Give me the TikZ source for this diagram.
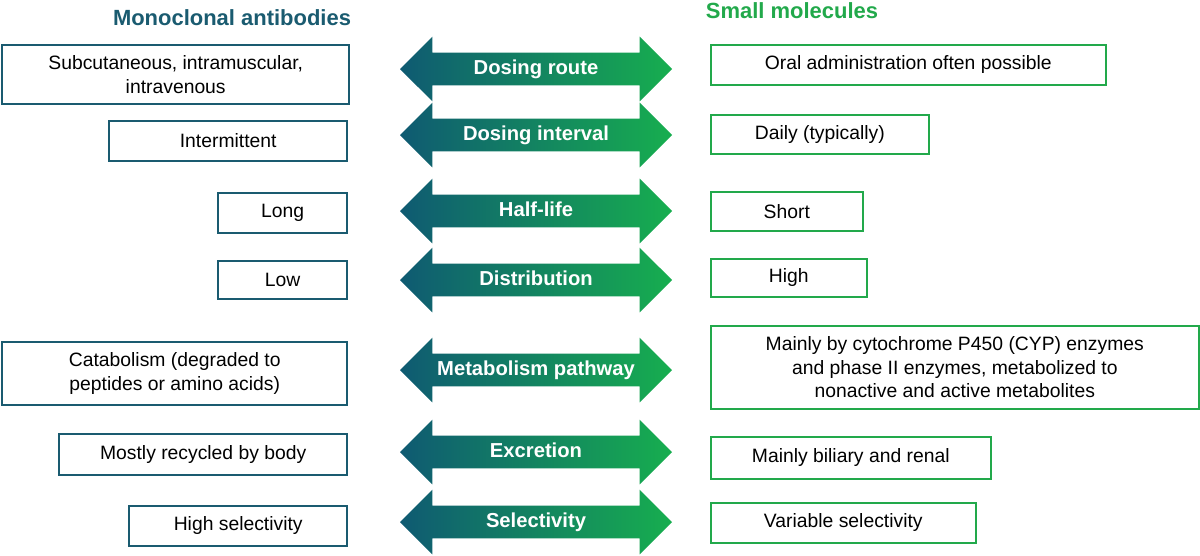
\documentclass[tikz,border=0pt]{standalone}
\usepackage{fontspec}
\setmainfont{Liberation Sans}
\usetikzlibrary{shapes.arrows, positioning}
\definecolor{mabteal}{HTML}{1A5B70}
\definecolor{smgreen}{HTML}{22A94B}
\definecolor{arrowleft}{HTML}{0F5A72}
\definecolor{arrowright}{HTML}{17AE4F}

\begin{document}
\begin{tikzpicture}[
    every node/.style={align=center, font=\fontsize{11}{13.5}\selectfont},
    lbox/.style={draw=mabteal, line width=0.9pt, anchor=north east, inner sep=2pt},
    rbox/.style={draw=smgreen, line width=0.9pt, anchor=north west, inner sep=2pt},
    twoway/.style={double arrow, double arrow head extend=0.32cm,
        minimum height=5.44cm, minimum width=1.28cm,
        text height=0.28cm, text depth=0.08cm, inner ysep=0.14cm, inner xsep=0pt,
        left color=arrowleft, right color=arrowright, text=white,
        font=\fontsize{11.5}{13}\selectfont\bfseries}
]
\useasboundingbox (0,0) rectangle (24,-11.1);

% Titel
\node[text=mabteal, font=\fontsize{12.5}{14}\selectfont\bfseries] (mabtitle) at (4.64,-0.36) {Monoclonal antibodies};
\node[text=smgreen, font=\fontsize{12.5}{14}\selectfont\bfseries] (smtitle) at (15.84,-0.22) {Small molecules};

% Pfeile in der Mitte
\foreach \name/\y/\txt in {route/-1.38/Dosing route, interval/-2.7/Dosing interval,
    halflife/-4.22/Half-life, distribution/-5.6/Distribution,
    metabolism/-7.4/Metabolism pathway, excretion/-9.04/Excretion,
    selectivity/-10.44/Selectivity}
    \node[twoway] (\name) at (10.72,\y) {\txt};

% Links: monoklonale Antikoerper
\node[lbox, minimum width=6.94cm, minimum height=1.18cm] (routeL) at (7.0,-0.88) {Subcutaneous, intramuscular,\\intravenous};
\node[lbox, minimum width=4.76cm, minimum height=0.8cm] (intervalL) at (6.96,-2.4) {Intermittent};
\node[lbox, minimum width=2.58cm, minimum height=0.8cm] (halflifeL) at (6.96,-3.84) {Long};
\node[lbox, minimum width=2.58cm, minimum height=0.76cm] (distributionL) at (6.96,-5.2) {Low};
\node[lbox, minimum width=6.9cm, minimum height=1.26cm] (metabolismL) at (6.96,-6.82) {Catabolism (degraded to\\peptides or amino acids)};
\node[lbox, minimum width=5.76cm, minimum height=0.82cm] (excretionL) at (6.96,-8.66) {Mostly recycled by body};
\node[lbox, minimum width=4.36cm, minimum height=0.8cm] (selectivityL) at (6.96,-10.1) {High selectivity};

% Rechts: kleine Molekuele
\node[rbox, minimum width=7.9cm, minimum height=0.8cm] (routeR) at (14.2,-0.88) {Oral administration often possible};
\node[rbox, minimum width=4.36cm, minimum height=0.78cm] (intervalR) at (14.2,-2.28) {Daily (typically)};
\node[rbox, minimum width=3.04cm, minimum height=0.78cm] (halflifeR) at (14.2,-3.82) {Short};
\node[rbox, minimum width=3.12cm, minimum height=0.76cm] (distributionR) at (14.2,-5.16) {High};
\node[rbox, minimum width=9.76cm, minimum height=1.66cm] (metabolismR) at (14.2,-6.5) {Mainly by cytochrome P450 (CYP) enzymes\\and phase II enzymes, metabolized to\\nonactive and active metabolites};
\node[rbox, minimum width=5.6cm, minimum height=0.84cm] (excretionR) at (14.2,-8.72) {Mainly biliary and renal};
\node[rbox, minimum width=5.3cm, minimum height=0.8cm] (selectivityR) at (14.2,-10.04) {Variable selectivity};

\end{tikzpicture}
\end{document}
